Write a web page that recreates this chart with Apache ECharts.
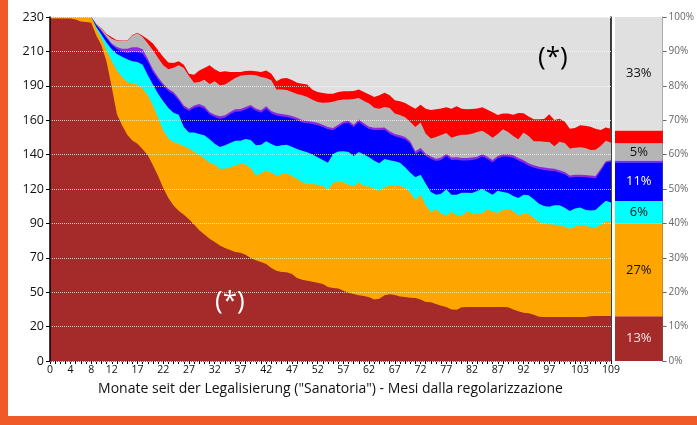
<!DOCTYPE html>
<html>
<head>
<meta charset="utf-8">
<script src="https://cdn.jsdelivr.net/npm/echarts@6/dist/echarts.min.js"></script>
<style>
html,body{margin:0;padding:0;background:#fff;}
#c{width:697px;height:425px;}
</style>
</head>
<body>
<div id="c"></div>
<script>
// ---- data ----
var months = [];
for (var i = 0; i <= 109; i++) months.push(String(i));
var xTickLabels = [0,4,8,12,17,22,27,32,37,42,47,52,57,62,67,72,77,82,87,92,97,103,109];
var yTickLabels = ['0','20','50','70','90','120','140','160','190','210','230'];
var pctTickLabels = ['0%','10%','20%','30%','40%','50%','60%','70%','80%','90%','100%'];

// upper boundary of each layer (cumulative level), read per month
var topDarkRed = [229,229,229,229,229,228.4,227,226.6,226.2,
 217.7,211,200,183,165,157.6,151.3,147.5,145.3,141.5,
 137.5,130.8,123.7,115.7,109,104,100.5,97.8,94.7,91.2,
 87.4,84.5,81.8,79.6,77.3,75.6,74.2,72.9,72.4,71.1,
 68.9,67.3,66.2,64.9,62.2,60.4,59.5,59.3,58.2,55.5,
 54.4,53.7,53.0,52.4,51.5,49.5,48.8,48.4,47.0,45.7,
 44.8,43.9,43.5,42.6,41.2,41.7,43.9,44.6,44.1,43.2,
 42.8,42.3,42.1,41.2,39.4,39.2,38.1,37.0,36.1,34.5,
 34.3,35.9,36.1,36.1,36.1,36.1,36.1,36.1,36.1,36.1,
 35.9,34.5,33.2,32.3,31.9,31.0,29.6,29.4,29.4,29.4,
 29.4,29.4,29.4,29.4,29.4,29.4,29.9,30.1,30.1,30.1,30.1];
var topOrange = [230,230,230,230,230,230,230,230,230,
 222.2,215.5,207.7,200.4,194.3,189.9,186.5,185.4,184.8,182.1,
 177.6,170.9,162.5,154.2,148.7,146.4,145.1,143.7,142.0,139.7,
 138.0,135.3,132.6,131.3,128.6,128.6,129.5,130.8,131.7,131.3,
 129.0,124.1,125.5,127.3,125.9,124.1,124.8,125.3,123.7,121.9,
 119.5,118.1,118.3,117.9,117.0,114.3,119.2,119.7,119.5,117.9,
 116.6,119.5,117.0,116.6,115.2,113.7,116.3,117.2,117.4,117.0,
 115.7,112.5,107.6,111.2,104.1,99.6,101.4,98.5,97.4,99.6,
 97.4,97.4,99.8,99.0,98.1,99.2,101.4,99.6,99.2,101.0,
 101.4,100.3,97.4,98.5,98.1,95.6,92.9,91.8,91.4,91.2,
 90.7,90.0,88.5,90.0,90.7,90.5,89.6,89.6,90.7,93.4,92.5];
var topCyan = [230,230,230,230,230,230,230,230,230,
 223.3,218.2,212.8,208.4,205.3,203.5,201.7,200.4,199.9,198.1,
 191.0,184.8,178.7,173.6,169.2,166.0,164.7,156.4,152.7,152.7,
 151.8,150.9,148.2,145.3,143.1,144.2,145.8,147.3,147.3,148.4,
 147.8,144.2,144.6,146.9,145.1,143.5,144.2,144.6,143.3,141.7,
 140.6,139.5,138.0,136.2,134.4,132.6,138.4,140.0,140.2,139.7,
 137.1,139.7,138.0,136.2,133.9,132.2,135.1,134.2,133.5,132.6,
 129.5,125.9,122.8,124.6,118.5,113.0,111.2,111.9,114.8,111.2,
 111.2,112.5,112.5,112.3,113.7,115.2,113.0,111.2,113.9,113.0,
 112.3,110.3,109.0,111.2,110.8,108.1,105.2,103.6,103.2,104.1,
 104.1,102.5,100.3,101.9,102.7,101.2,100.7,101.0,104.1,107.2,105.9];
var topBlue = [230,230,230,230,230,230,230,230,230,
 224.6,220.5,215.8,211.2,208.6,207.0,206.0,206.4,206.4,205.4,
 200.2,193.3,188.2,183.8,180.5,178.3,174.2,169.3,167.1,169.3,
 170.2,168.7,164.9,163.1,162.0,162.7,164.9,166.7,166.9,168.2,
 169.6,167.3,166.0,168.7,165.6,164.2,163.5,163.1,162.2,161.1,
 159.5,158.9,158.4,157.7,156.4,154.9,154.2,156.4,158.6,159.1,
 156.4,159.8,157.3,155.1,154.4,154.4,154.6,152.0,150.2,149.3,
 148.2,145.3,138.4,140.6,137.0,135.2,133.7,134.4,137.0,134.4,
 134.6,134.1,134.1,134.4,135.0,136.8,135.0,132.8,135.5,136.6,
 136.6,135.9,134.1,132.6,130.6,129.2,128.3,127.7,127.2,127.0,
 125.9,124.8,122.5,123.0,123.0,122.8,122.5,122.1,127.0,132.5,133.2];
var topPurple = [230,230,230,230,230,230,230,230,230,
 224.9,221.1,216.6,212.2,209.9,208.8,208.8,209.7,209.7,208.4,
 202.1,195.0,189.9,185.4,182.1,179.9,175.8,170.9,168.7,170.9,
 171.8,170.3,166.5,164.7,163.6,164.3,166.5,168.3,168.5,169.8,
 171.2,168.9,167.6,170.3,167.2,165.8,165.1,164.7,163.8,162.7,
 161.1,160.5,160.0,159.3,158.0,156.5,155.8,158.0,160.2,160.7,
 158.0,161.4,158.9,156.7,156.0,156.0,156.2,153.6,151.8,150.9,
 149.8,146.9,140.2,142.4,138.8,136.8,135.3,136.0,138.6,136.0,
 136.2,135.7,135.7,136.0,136.6,138.4,136.6,134.4,137.1,138.2,
 138.2,137.5,135.7,134.2,132.2,130.8,129.9,129.3,128.8,128.6,
 127.5,126.4,124.1,124.6,124.6,124.4,124.1,123.7,128.6,133.5,134.2];
var topGray = [230,230,230,230,230,230,230,230,230,
 225.3,222.2,218.2,215.5,214.2,214.2,214.2,217.7,219.1,216.6,
 212.2,207.7,202.6,197.7,195.0,196.1,197.7,195.9,190.5,186.0,
 186.5,188.1,185.2,187.0,184.3,184.8,187.0,189.2,190.8,191.2,
 191.4,191.0,189.9,189.2,187.7,181.6,181.6,181.2,179.9,178.5,
 177.6,176.5,174.7,173.2,172.7,172.9,173.4,174.3,174.9,174.9,
 175.2,175.8,173.8,172.1,169.4,168.7,169.8,169.2,165.4,164.5,
 162.9,159.8,156.5,159.4,152.0,148.7,149.8,151.1,152.4,149.3,
 150.4,151.3,151.3,152.0,153.1,154.0,151.8,149.3,151.8,154.9,
 153.1,150.4,148.2,152.7,150.4,146.9,146.9,146.6,146.4,143.5,
 146.6,145.8,142.0,142.6,142.9,142.4,141.1,141.3,143.7,147.3,146.0];
var topRed = [230,230,230,230,230,230,230,230,230,
 225.4,222.5,218.7,216.5,214.5,214.3,214.3,218.0,219.5,217.5,
 215.1,212.2,207.7,203.3,199.5,199.2,200.4,198.1,192.1,191.4,
 194.3,195.9,197.7,195.0,193.2,193.7,193.2,193.2,193.2,193.9,
 194.1,193.7,193.2,194.3,192.1,187.0,188.8,189.2,187.9,186.1,
 185.4,184.8,181.4,179.9,179.2,178.7,178.7,179.9,180.3,180.3,
 180.5,181.6,179.9,178.1,176.5,177.6,179.4,177.6,174.3,173.6,
 172.5,170.5,168.7,171.4,168.7,167.8,168.3,168.9,169.6,168.7,
 170.3,168.7,168.3,168.5,168.9,169.6,168.0,166.3,164.5,165.4,
 165.4,164.7,165.8,165.6,163.4,161.6,161.6,161.8,164.9,161.1,
 162.0,160.2,155.3,155.8,157.6,157.3,156.7,155.3,154.4,156.2,155.3];

// right-hand summary bar (percent, bottom to top)
var barValues = [13, 27, 6.5, 11.3, 0.5, 5, 3.7, 33];
var barLabels = ['13%', '27%', '6%', '11%', '', '5%', '', '33%'];
var barLabelColors = ['#f2e4e4', '#111', '#111', '#fff', '#fff', '#111', '#fff', '#111'];

// ---- style ----
var colors = ['#A52A2A', '#FFA500', '#00FFFF', '#0000FF', '#8A2BE2', '#B5B5B5', '#FF0000', '#E0E0E0'];
var FONT = 'Open Sans';

var layers = [
  {data: topRed, color: colors[6]},
  {data: topGray, color: colors[5]},
  {data: topPurple, color: colors[4]},
  {data: topBlue, color: colors[3]},
  {data: topCyan, color: colors[2]},
  {data: topOrange, color: colors[1]},
  {data: topDarkRed, color: colors[0]}
];

var series = layers.map(function (l) {
  return {
    type: 'line', xAxisIndex: 0, yAxisIndex: 0,
    data: l.data, showSymbol: false, symbol: 'none', silent: true,
    lineStyle: {width: 0, opacity: 0},
    areaStyle: {color: l.color, opacity: 1, origin: 'start'},
    z: 2
  };
});

barValues.forEach(function (v, i) {
  series.push({
    type: 'bar', xAxisIndex: 2, yAxisIndex: 2, stack: 'pct',
    data: [v], barWidth: '100%', silent: true,
    itemStyle: {color: colors[i]},
    label: {
      show: barLabels[i] !== '', position: 'inside',
      formatter: barLabels[i], color: barLabelColors[i],
      fontSize: 13, fontFamily: FONT
    }
  });
});

var chart = echarts.init(document.getElementById('c'), null, {renderer: 'canvas'});
chart.setOption({
  animation: false,
  textStyle: {fontFamily: FONT},
  grid: [
    {left: 50, top: 17, width: 561, height: 344, show: true, backgroundColor: colors[7], borderWidth: 0},
    {left: 615, top: 17, width: 51, height: 344, show: false}
  ],
  xAxis: [
    {
      type: 'category', gridIndex: 0, data: months, boundaryGap: false,
      axisLine: {lineStyle: {color: '#000', width: 1.5}},
      axisTick: {interval: 0, length: 3, lineStyle: {color: '#000'}},
      axisLabel: {
        interval: function (idx) { return xTickLabels.indexOf(idx) >= 0; },
        fontSize: 10.5, color: '#111', margin: 4
      },
      name: 'Monate seit der Legalisierung ("Sanatoria") - Mesi dalla regolarizzazione',
      nameLocation: 'middle', nameGap: 21,
      nameTextStyle: {fontSize: 14, color: '#111'},
      splitLine: {show: false}
    },
    {
      type: 'category', gridIndex: 0, data: months, boundaryGap: false, position: 'top',
      axisLine: {lineStyle: {color: '#808080', type: 'dotted', width: 1}},
      axisTick: {show: false}, axisLabel: {show: false}, splitLine: {show: false}
    },
    {
      type: 'category', gridIndex: 1, data: [''], show: false
    }
  ],
  yAxis: [
    {
      type: 'value', gridIndex: 0, min: 0, max: 230, interval: 23, z: 5,
      axisLine: {show: true, lineStyle: {color: '#000', width: 1.5}},
      axisTick: {show: true, length: 4, lineStyle: {color: '#000'}},
      axisLabel: {
        formatter: function (v) { return yTickLabels[Math.round(v / 23)]; },
        fontSize: 12.5, color: '#111', margin: 6
      },
      splitLine: {show: true, lineStyle: {color: 'rgba(255,255,255,0.75)', type: 'dotted', width: 1}}
    },
    {
      type: 'value', gridIndex: 0, min: 0, max: 230, position: 'right',
      axisLine: {show: true, lineStyle: {color: '#000', width: 1.5}},
      axisTick: {show: false}, axisLabel: {show: false}, splitLine: {show: false}
    },
    {
      type: 'value', gridIndex: 1, min: 0, max: 100, interval: 10, position: 'right',
      axisLine: {show: true, lineStyle: {color: '#666', width: 1}},
      axisTick: {show: true, length: 4, lineStyle: {color: '#666'}},
      axisLabel: {
        formatter: function (v) { return pctTickLabels[Math.round(v / 10)]; },
        fontSize: 10, color: '#666', margin: 6
      },
      splitLine: {show: false}
    }
  ],
  graphic: [
    {type: 'rect', left: 0, top: 0, shape: {width: 8, height: 425}, style: {fill: '#F05A28'}, z: 100},
    {type: 'rect', left: 0, top: 416, shape: {width: 697, height: 9}, style: {fill: '#F05A28'}, z: 100},
    {type: 'text', left: 538, top: 45, style: {text: '(*)', fontSize: 26, fill: '#000', fontFamily: FONT}, z: 100},
    {type: 'text', left: 215, top: 289, style: {text: '(*)', fontSize: 26, fill: '#fff', fontFamily: FONT}, z: 100}
  ],
  series: series
});
</script>
</body>
</html>
